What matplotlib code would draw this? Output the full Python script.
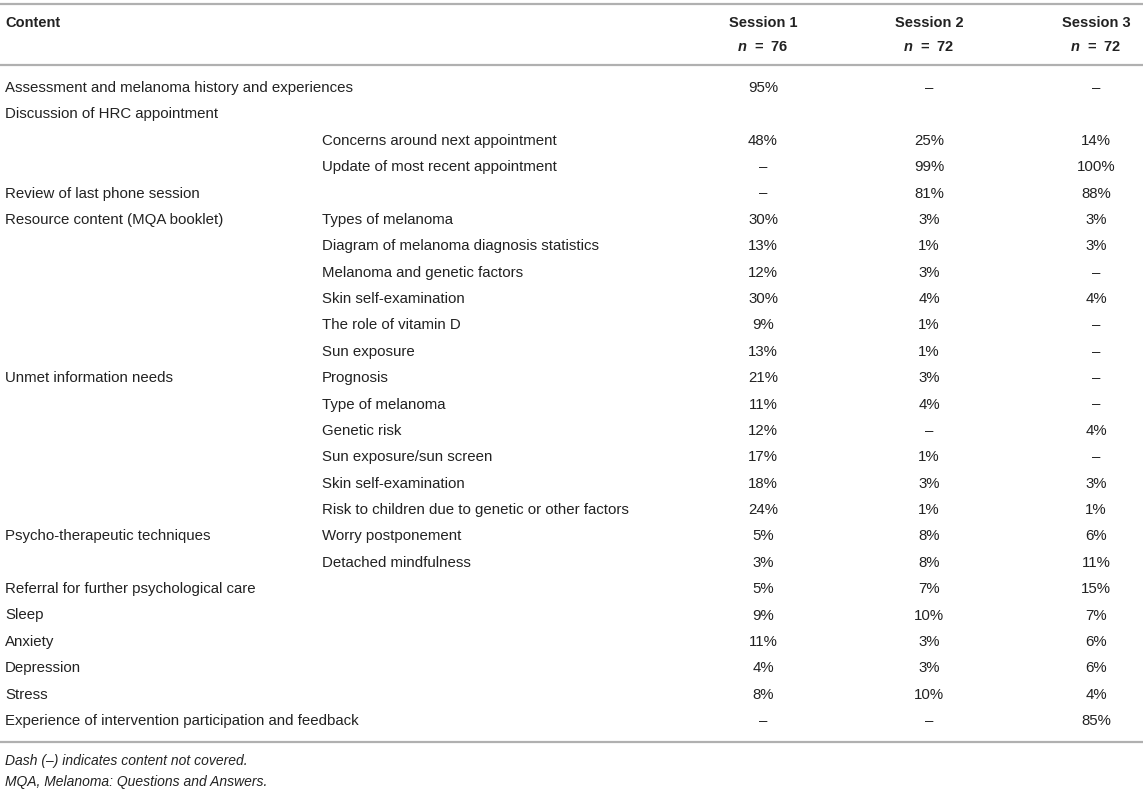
import matplotlib.pyplot as plt

plt.rcParams['font.family'] = ['Liberation Sans', 'DejaVu Sans']
plt.rcParams['mathtext.fontset'] = 'custom'
plt.rcParams['mathtext.rm'] = 'Liberation Sans:bold'
plt.rcParams['mathtext.it'] = 'Liberation Sans:italic:bold'

# Table content
headers = ["Session 1", "Session 2", "Session 3"]
n_values = [76, 72, 72]

main_labels = [
    "Assessment and melanoma history and experiences",
    "Discussion of HRC appointment",
    "",
    "",
    "Review of last phone session",
    "Resource content (MQA booklet)",
    "", "", "", "", "",
    "Unmet information needs",
    "", "", "", "", "",
    "Psycho-therapeutic techniques",
    "",
    "Referral for further psychological care",
    "Sleep",
    "Anxiety",
    "Depression",
    "Stress",
    "Experience of intervention participation and feedback",
]
sub_labels = [
    "", "",
    "Concerns around next appointment",
    "Update of most recent appointment",
    "",
    "Types of melanoma",
    "Diagram of melanoma diagnosis statistics",
    "Melanoma and genetic factors",
    "Skin self-examination",
    "The role of vitamin D",
    "Sun exposure",
    "Prognosis",
    "Type of melanoma",
    "Genetic risk",
    "Sun exposure/sun screen",
    "Skin self-examination",
    "Risk to children due to genetic or other factors",
    "Worry postponement",
    "Detached mindfulness",
    "", "", "", "", "", "",
]
session1 = ["95%", "", "48%", "–", "–", "30%", "13%", "12%", "30%", "9%", "13%",
            "21%", "11%", "12%", "17%", "18%", "24%", "5%", "3%", "5%", "9%",
            "11%", "4%", "8%", "–"]
session2 = ["–", "", "25%", "99%", "81%", "3%", "1%", "3%", "4%", "1%", "1%",
            "3%", "4%", "–", "1%", "3%", "1%", "8%", "8%", "7%", "10%",
            "3%", "3%", "10%", "–"]
session3 = ["–", "", "14%", "100%", "88%", "3%", "3%", "–", "4%", "–", "–",
            "–", "–", "4%", "–", "3%", "1%", "6%", "11%", "15%", "7%",
            "6%", "6%", "4%", "85%"]
footnotes = ["Dash (–) indicates content not covered.",
             "MQA, Melanoma: Questions and Answers."]

W, H = 1143, 789
fig = plt.figure(figsize=(W / 100, H / 100), dpi=100)
ax = fig.add_axes([0, 0, 1, 1])
ax.set_xlim(0, W)
ax.set_ylim(H, 0)
ax.axis('off')

txt = '#222222'
line_c = '#b0b0b0'
fs = 10.85
x_main, x_sub = 5, 322
col_x = [763, 929, 1096]

# rules
for y in (4, 65, 742):
    ax.plot([0, W], [y, y], color=line_c, lw=1.6, solid_capstyle='butt')

# header
ax.text(x_main, 23, "Content", fontsize=10.5, fontweight='bold', color=txt, va='center')
for x, h, n in zip(col_x, headers, n_values):
    ax.text(x, 23, h, fontsize=10.5, fontweight='bold', color=txt, ha='center', va='center')
    ax.text(x, 47, f"$n$  =  {n}", fontsize=10.5, fontweight='bold', color=txt,
            ha='center', va='center')

# body
y0, dy = 88, (721 - 88) / 24
for i in range(len(main_labels)):
    y = y0 + i * dy
    ax.text(x_main, y, main_labels[i], fontsize=fs, color=txt, va='center')
    ax.text(x_sub, y, sub_labels[i], fontsize=fs, color=txt, va='center')
    for x, v in zip(col_x, (session1[i], session2[i], session3[i])):
        ax.text(x, y, v, fontsize=fs, color=txt, ha='center', va='center')

# footnotes
for k, f in enumerate(footnotes):
    ax.text(x_main, 761 + k * 21, f, fontsize=10, style='italic', color=txt, va='center')

fig.savefig('out.png', dpi=100)
